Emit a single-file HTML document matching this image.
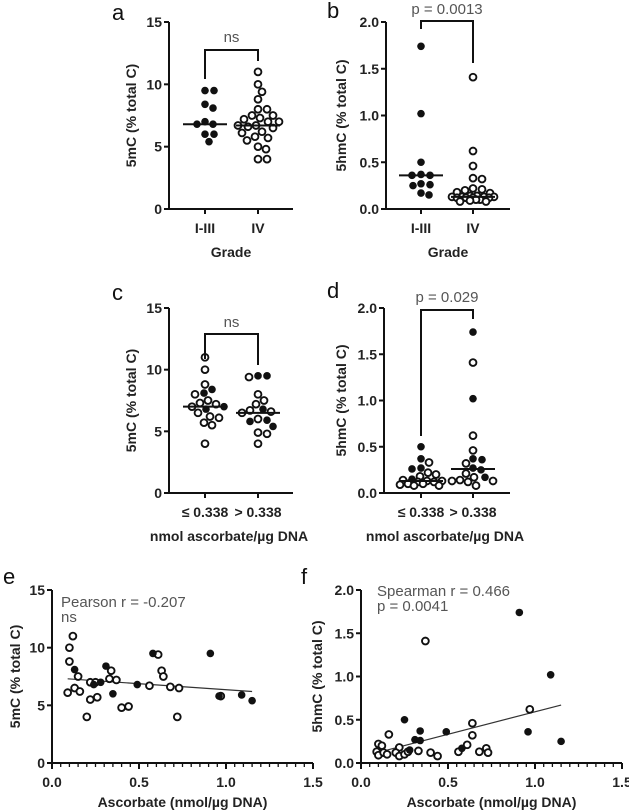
<!DOCTYPE html>
<html><head><meta charset="utf-8"><style>
html,body{margin:0;padding:0;background:#fff;}
svg{display:block;font-family:"Liberation Sans",sans-serif;}
.tk{font-size:14px;font-weight:bold;fill:#222;}
.lab{font-size:14px;font-weight:bold;fill:#222;}
.ann{font-size:15px;fill:#555;}
.pl{font-size:22px;fill:#111;}
</style></head><body>
<svg id="fig" width="629" height="810" viewBox="0 0 629 810"></svg>
<script>
// Panel a: 5mC by grade
const aCats = ["I-III","IV"];
const aFilled0 = [9.5,9.5,8.4,8.1,7.0,6.8,6.8,6.0,6.0,5.4];
const aOpen1 = [11.0,10.0,9.4,8.8,8.0,8.0,7.5,7.5,7.3,7.2,7.0,7.0,6.7,6.7,6.6,6.5,6.2,6.1,5.8,5.7,5.5,5.0,4.8,4.0,4.0];
const aMedians = [6.8,6.7];
// Panel b: 5hmC by grade
const bCats = ["I-III","IV"];
const bFilled0 = [1.74,1.02,0.50,0.37,0.36,0.36,0.27,0.26,0.25,0.17,0.15];
const bOpen1 = [1.41,0.62,0.46,0.33,0.32,0.22,0.21,0.20,0.18,0.17,0.14,0.14,0.13,0.13,0.13,0.13,0.12,0.12,0.12,0.12,0.10,0.10,0.09,0.08,0.08];
const bMedians = [0.36,0.13];
// Panel c: 5mC by ascorbate group
const cCats = ["≤ 0.338","> 0.338"];
const cOpen0 = [11.0,10.0,8.8,8.0,7.5,7.3,7.2,7.0,6.5,6.2,6.1,5.7,5.5,4.0];
const cFilled0 = [8.4,8.1,7.0,6.8];
const cOpen1 = [9.4,8.0,7.5,7.2,6.7,6.6,6.5,6.0,4.9,4.8,4.0];
const cFilled1 = [9.5,9.5,6.8,5.9,5.8,5.4];
const cMedians = [7.0,6.5];
// Panel d: 5hmC by ascorbate group
const dCats = ["≤ 0.338","> 0.338"];
const dOpen0 = [0.33,0.22,0.20,0.18,0.14,0.13,0.13,0.12,0.12,0.10,0.10,0.09,0.08,0.08];
const dFilled0 = [0.50,0.37,0.27,0.26,0.15];
const dOpen1 = [1.41,0.62,0.46,0.32,0.21,0.17,0.14,0.13,0.13,0.12,0.08];
const dFilled1 = [1.74,1.02,0.37,0.36,0.27,0.25,0.17];
const dMedians = [0.13,0.26];
// Panel e: scatter 5mC vs ascorbate
const eOpenX = [0.10,0.10,0.12,0.09,0.13,0.15,0.16,0.20,0.22,0.22,0.25,0.26,0.33,0.34,0.37,0.40,0.44,0.56,0.61,0.63,0.64,0.68,0.72,0.73,0.97];
const eOpenY = [10.0,8.8,11.0,6.1,6.5,7.5,6.2,4.0,7.0,5.5,7.0,5.7,7.3,8.0,7.2,4.8,4.9,6.7,9.4,8.0,7.5,6.6,4.0,6.5,5.8];
const eFillX = [0.13,0.24,0.28,0.31,0.35,0.49,0.58,0.91,0.96,1.09,1.15];
const eFillY = [8.1,6.8,7.0,8.4,6.0,6.8,9.5,9.5,5.8,5.9,5.4];
const eFitX = [0.09,1.15];
const eFitY = [7.3,6.2];
// Panel f: scatter 5hmC vs ascorbate
const fOpenX = [0.37,0.97,0.64,0.64,0.16,0.10,0.12,0.22,0.09,0.10,0.13,0.15,0.20,0.22,0.25,0.27,0.33,0.40,0.44,0.56,0.61,0.68,0.72,0.73];
const fOpenY = [1.41,0.62,0.46,0.32,0.33,0.22,0.20,0.18,0.13,0.09,0.12,0.10,0.12,0.08,0.10,0.13,0.14,0.12,0.08,0.13,0.21,0.13,0.17,0.12];
const fFillX = [0.91,1.09,0.25,0.34,0.49,0.96,0.31,0.34,1.15,0.58,0.28];
const fFillY = [1.74,1.02,0.50,0.37,0.36,0.36,0.27,0.26,0.25,0.17,0.15];
const fFitX = [0.15,1.15];
const fFitY = [0.15,0.67];

const NS="http://www.w3.org/2000/svg";
const svg=document.getElementById('fig');
function el(tag,attrs,parent,txt){const e=document.createElementNS(NS,tag);for(const k in attrs)e.setAttribute(k,attrs[k]);if(txt!==undefined)e.textContent=txt;(parent||svg).appendChild(e);return e;}
function dot(g,x,y,filled,name){
  const c=el('circle',{cx:x,cy:y,r:filled?3.8:3.4,fill:filled?'#111':'#fff',stroke:'#111','stroke-width':filled?0:1.9},g);
  
  
}
function text(g,x,y,s,cls,anchor,name,rot){
  const t=el('text',{x:x,y:y,class:cls,'text-anchor':anchor||'middle'},g,s);
  if(rot)t.setAttribute('transform','rotate(-90 '+x+' '+y+')');
  
  
  return t;
}
function yAxis(g,x0,yT,yB,max,ticks,fmt,x1){
  el('line',{x1:x0,y1:yT,x2:x0,y2:yB,stroke:'#111','stroke-width':2},g);
  el('line',{x1:x0,y1:yB,x2:x1,y2:yB,stroke:'#111','stroke-width':2},g);
  ticks.forEach(v=>{const y=yB-(v/max)*(yB-yT);
    el('line',{x1:x0-5,y1:y,x2:x0,y2:y,stroke:'#111','stroke-width':2},g);
    text(g,x0-7,y+5,fmt(v),'tk','end','y-tick-label');});
}
function swarm(vals,cx,ys){
  const placed=[];const out=[];const d=8.2;const maxOff=21;
  vals.forEach(v=>{const y=ys(v);let best=null,bestScore=-1,bestX=cx;
    for(let k=0;k<=2*maxOff;k++){const off=(k%2?1:-1)*Math.ceil(k/2);
      const x=cx+off;
      const md=placed.reduce((m,p)=>Math.min(m,Math.hypot(p[0]-x,p[1]-y)),1e9);
      if(md>=d){best=x;break;}
      if(md>bestScore){bestScore=md;bestX=x;}}
    if(best===null)best=bestX;placed.push([best,y]);out.push(best);});
  return out;
}
function dotPanel(opt){
  const g=el('g',{});
  const {x0,yT,yB,max,cx,x1}=opt;
  const ys=v=>yB-(v/max)*(yB-yT);
  yAxis(g,x0,yT,yB,max,opt.ticks,opt.fmt,x1);
  opt.cats.forEach((c,i)=>{el('line',{x1:cx[i],y1:yB,x2:cx[i],y2:yB+5,stroke:'#111','stroke-width':2},g);
    text(g,cx[i],yB+24,c,'tk','middle','x-tick-label');});
  text(g,(x0+x1)/2+(opt.xlOff||0),opt.xlY,opt.xlabel,'lab','middle','x-axis-title');
  text(g,opt.ylX,(yT+yB)/2,opt.ylabel,'lab','middle','y-axis-title',true);
  text(g,opt.plX,opt.plY,opt.letter,'pl','start','panel-label');
  opt.groups.forEach((grp,i)=>{
    const all=[];grp.open.forEach(v=>all.push([v,false]));grp.filled.forEach(v=>all.push([v,true]));
    all.sort((a,b)=>b[0]-a[0]);
    const xs=swarm(all.map(a=>a[0]),cx[i],ys);
    all.forEach((a,j)=>dot(g,xs[j],ys(a[0]),a[1],a[1]?'filled-point':'open-point'));
    const m=el('line',{x1:cx[i]-22,y1:ys(opt.medians[i]),x2:cx[i]+22,y2:ys(opt.medians[i]),stroke:'#111','stroke-width':2},g);
    
  });
  const b=opt.br;
  const p=el('path',{d:`M${cx[0]},${b.l} V${b.t} H${cx[1]} V${b.r}`,fill:'none',stroke:'#111','stroke-width':2},g);
  
  text(g,(cx[0]+cx[1])/2,b.ty,opt.sig,'ann','middle','significance-label');
}
dotPanel({name:'panel-a',x0:169,yT:22,yB:209,x1:293,max:15,ticks:[0,5,10,15],fmt:v=>v,cx:[205,258],cats:aCats,
  xlabel:'Grade',xlY:257,ylabel:'5mC (% total C)',ylX:136,letter:'a',plX:112,plY:20,
  groups:[{open:[],filled:aFilled0},{open:aOpen1,filled:[]}],medians:aMedians,br:{t:50,l:79,r:61,ty:42},sig:'ns'});
dotPanel({name:'panel-b',x0:386,yT:22,yB:209,x1:510,max:2,ticks:[0,0.5,1,1.5,2],fmt:v=>v.toFixed(1),cx:[421,473],cats:bCats,
  xlabel:'Grade',xlY:257,ylabel:'5hmC (% total C)',ylX:346,letter:'b',plX:327,plY:18,
  groups:[{open:[],filled:bFilled0},{open:bOpen1,filled:[]}],medians:bMedians,br:{t:21,l:29,r:63,ty:14},sig:'p = 0.0013'});
dotPanel({name:'panel-c',x0:169,yT:308,yB:493,x1:293,max:15,ticks:[0,5,10,15],fmt:v=>v,cx:[205,258],cats:cCats,
  xlabel:'nmol ascorbate/µg DNA',xlY:541,xlOff:-2,ylabel:'5mC (% total C)',ylX:136,letter:'c',plX:112,plY:300,
  groups:[{open:cOpen0,filled:cFilled0},{open:cOpen1,filled:cFilled1}],medians:cMedians,br:{t:334,l:359,r:365,ty:327},sig:'ns'});
dotPanel({name:'panel-d',x0:384,yT:308,yB:493,x1:510,max:2,ticks:[0,0.5,1,1.5,2],fmt:v=>v.toFixed(1),cx:[421,473],cats:dCats,
  xlabel:'nmol ascorbate/µg DNA',xlY:541,xlOff:-2,ylabel:'5hmC (% total C)',ylX:346,letter:'d',plX:327,plY:298,
  groups:[{open:dOpen0,filled:dFilled0},{open:dOpen1,filled:dFilled1}],medians:dMedians,br:{t:310,l:436,r:319,ty:302},sig:'p = 0.029'});

function scatter(opt){
  const g=el('g',{});
  const {x0,x1,yT,yB,max}=opt;
  const xs=v=>x0+(v/1.5)*(x1-x0), ys=v=>yB-(v/max)*(yB-yT);
  yAxis(g,x0,yT,yB,max,opt.ticks,opt.fmt,x1);
  for(let k=0;k<=30;k++){const v=k*0.05;const major=k%10===0;
    el('line',{x1:xs(v),y1:yB,x2:xs(v),y2:yB+(major?6:4),stroke:'#111','stroke-width':major?2:1.3},g);
    if(major)text(g,xs(v),yB+24,v.toFixed(1),'tk','middle','x-tick-label');}
  text(g,(x0+x1)/2,opt.xlY,'Ascorbate (nmol/µg DNA)','lab','middle','x-axis-title');
  text(g,opt.ylX,(yT+yB)/2,opt.ylabel,'lab','middle','y-axis-title',true);
  text(g,opt.plX,opt.plY,opt.letter,'pl','start','panel-label');
  const f=el('line',{x1:xs(opt.fitX[0]),y1:ys(opt.fitY[0]),x2:xs(opt.fitX[1]),y2:ys(opt.fitY[1]),stroke:'#333','stroke-width':1.2},g);
  
  opt.ox.forEach((v,i)=>dot(g,xs(v),ys(opt.oy[i]),false,'open-point'));
  opt.fx.forEach((v,i)=>dot(g,xs(v),ys(opt.fy[i]),true,'filled-point'));
  opt.ann.forEach((s,i)=>text(g,opt.annX,opt.annY+i*15,s,'ann','start','stat-annotation'));
}
scatter({name:'panel-e',x0:52,x1:313,yT:590,yB:763,max:15,ticks:[0,5,10,15],fmt:v=>v,xlY:807,ylabel:'5mC (% total C)',ylX:20,letter:'e',plX:3,plY:584,
  ox:eOpenX,oy:eOpenY,fx:eFillX,fy:eFillY,fitX:eFitX,fitY:eFitY,ann:['Pearson r = -0.207','ns'],annX:61,annY:607});
scatter({name:'panel-f',x0:361,x1:622,yT:590,yB:763,max:2,ticks:[0,0.5,1,1.5,2],fmt:v=>v.toFixed(1),xlY:807,ylabel:'5hmC (% total C)',ylX:322,letter:'f',plX:301,plY:584,
  ox:fOpenX,oy:fOpenY,fx:fFillX,fy:fFillY,fitX:fFitX,fitY:fFitY,ann:['Spearman r = 0.466','p = 0.0041'],annX:377,annY:596});
</script>
</body></html>
